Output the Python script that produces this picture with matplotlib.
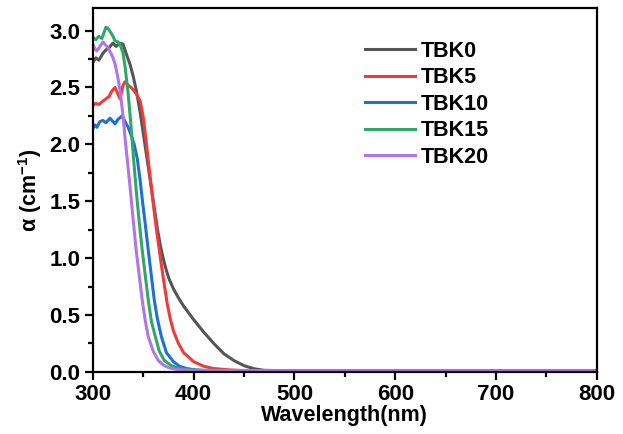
import numpy as np
import matplotlib.pyplot as plt
from matplotlib.ticker import MultipleLocator

plt.rcParams['font.family'] = ['Liberation Sans', 'DejaVu Sans']
plt.rcParams['font.weight'] = 'bold'
plt.rcParams['mathtext.fontset'] = 'custom'
plt.rcParams['mathtext.rm'] = 'Liberation Sans:bold'
plt.rcParams['mathtext.default'] = 'rm'

tail_wl = [500, 600, 700, 800]

wl_0 = [300, 303, 306, 310, 313, 316, 320, 323, 327, 330, 333, 337, 340, 343, 347,
        350, 353, 357, 360, 364, 367, 370, 373, 376, 380, 385, 390, 400, 410, 420,
        430, 440, 450, 460, 470] + tail_wl
tbk0 = [2.72, 2.76, 2.74, 2.80, 2.83, 2.85, 2.89, 2.86, 2.89, 2.88, 2.80, 2.70, 2.60,
        2.48, 2.28, 2.10, 1.92, 1.68, 1.50, 1.26, 1.11, 0.99, 0.89, 0.81, 0.73, 0.65,
        0.58, 0.46, 0.35, 0.25, 0.16, 0.10, 0.055, 0.028, 0.014, 0.01, 0.01, 0.01, 0.01]

wl_5 = [300, 303, 306, 310, 313, 316, 319, 322, 325, 327, 330, 332, 335, 338, 341,
        344, 347, 350, 353, 356, 359, 362, 365, 368, 371, 374, 377, 380, 385, 390,
        400, 410, 420, 435, 450] + tail_wl
tbk5 = [2.34, 2.36, 2.35, 2.38, 2.40, 2.42, 2.47, 2.50, 2.44, 2.40, 2.52, 2.55, 2.52,
        2.50, 2.47, 2.43, 2.38, 2.24, 2.02, 1.78, 1.55, 1.33, 1.13, 0.94, 0.76, 0.59,
        0.46, 0.36, 0.25, 0.17, 0.09, 0.05, 0.03, 0.018, 0.012, 0.01, 0.01, 0.01, 0.01]

wl_10 = [300, 302, 304, 307, 310, 313, 317, 320, 322, 325, 329, 332, 335, 338, 341,
         344, 347, 349, 352, 355, 358, 361, 364, 368, 373, 380, 386, 393, 400, 410] + tail_wl
tbk10 = [2.14, 2.17, 2.15, 2.20, 2.21, 2.19, 2.23, 2.20, 2.18, 2.22, 2.25, 2.20, 2.15,
         2.08, 2.00, 1.88, 1.68, 1.52, 1.30, 1.07, 0.85, 0.63, 0.47, 0.31, 0.17, 0.09,
         0.05, 0.03, 0.02, 0.013, 0.01, 0.01, 0.01, 0.01]

wl_15 = [300, 303, 306, 309, 311, 313, 315, 318, 320, 322, 325, 327, 330, 332, 335,
         338, 340, 343, 346, 349, 352, 355, 358, 362, 366, 371, 378, 386, 400] + tail_wl
tbk15 = [2.94, 2.92, 2.95, 2.93, 2.98, 3.03, 3.02, 2.98, 2.95, 2.91, 2.90, 2.88, 2.80,
         2.68, 2.45, 2.15, 1.92, 1.60, 1.32, 1.07, 0.85, 0.63, 0.45, 0.31, 0.18, 0.10,
         0.055, 0.03, 0.015, 0.01, 0.01, 0.01, 0.01]

wl_20 = [300, 302, 304, 307, 310, 312, 315, 318, 320, 322, 325, 327, 330, 332, 334,
         337, 340, 343, 346, 349, 352, 355, 360, 365, 370, 376, 385, 400] + tail_wl
tbk20 = [2.88, 2.84, 2.82, 2.86, 2.90, 2.88, 2.85, 2.80, 2.76, 2.71, 2.58, 2.47, 2.25,
         2.05, 1.88, 1.62, 1.34, 1.07, 0.85, 0.63, 0.45, 0.31, 0.18, 0.10, 0.06, 0.035,
         0.02, 0.012, 0.01, 0.01, 0.01, 0.01]

series = [
    ("TBK0", wl_0, tbk0, '#555555'),
    ("TBK5", wl_5, tbk5, '#ee3b3b'),
    ("TBK10", wl_10, tbk10, '#1f6fd6'),
    ("TBK15", wl_15, tbk15, '#2ea866'),
    ("TBK20", wl_20, tbk20, '#b275e6'),
]

fig = plt.figure(figsize=(6.23, 4.34), dpi=100)
ax = fig.add_axes([0.149, 0.143, 0.809, 0.839])

for name, x, y, c in series:
    ax.plot(x, y, color=c, lw=2.2, label=name)

ax.set_xlim(300, 800)
ax.set_ylim(0, 3.2)
ax.xaxis.set_major_locator(MultipleLocator(100))
ax.xaxis.set_minor_locator(MultipleLocator(50))
ax.yaxis.set_major_locator(MultipleLocator(0.5))
ax.yaxis.set_minor_locator(MultipleLocator(0.25))
ax.yaxis.set_major_formatter(plt.FormatStrFormatter('%.1f'))

for s in ax.spines.values():
    s.set_linewidth(1.6)
ax.tick_params(which='major', direction='out', length=6, width=1.6, labelsize=16, pad=3)
ax.tick_params(which='minor', direction='out', length=3.5, width=1.6)

ax.set_xlabel("Wavelength(nm)", fontsize=15.5, fontweight='bold', labelpad=0)
ax.set_ylabel("α (cm$^{-1}$)", fontsize=15.5, fontweight='bold', labelpad=4)

ax.legend(loc='upper left', bbox_to_anchor=(0.54, 0.91), frameon=False,
          fontsize=15.5, handlelength=2.3, handletextpad=0.3, labelspacing=0.26,
          borderpad=0, borderaxespad=0)

fig.savefig("out.png", dpi=100)
